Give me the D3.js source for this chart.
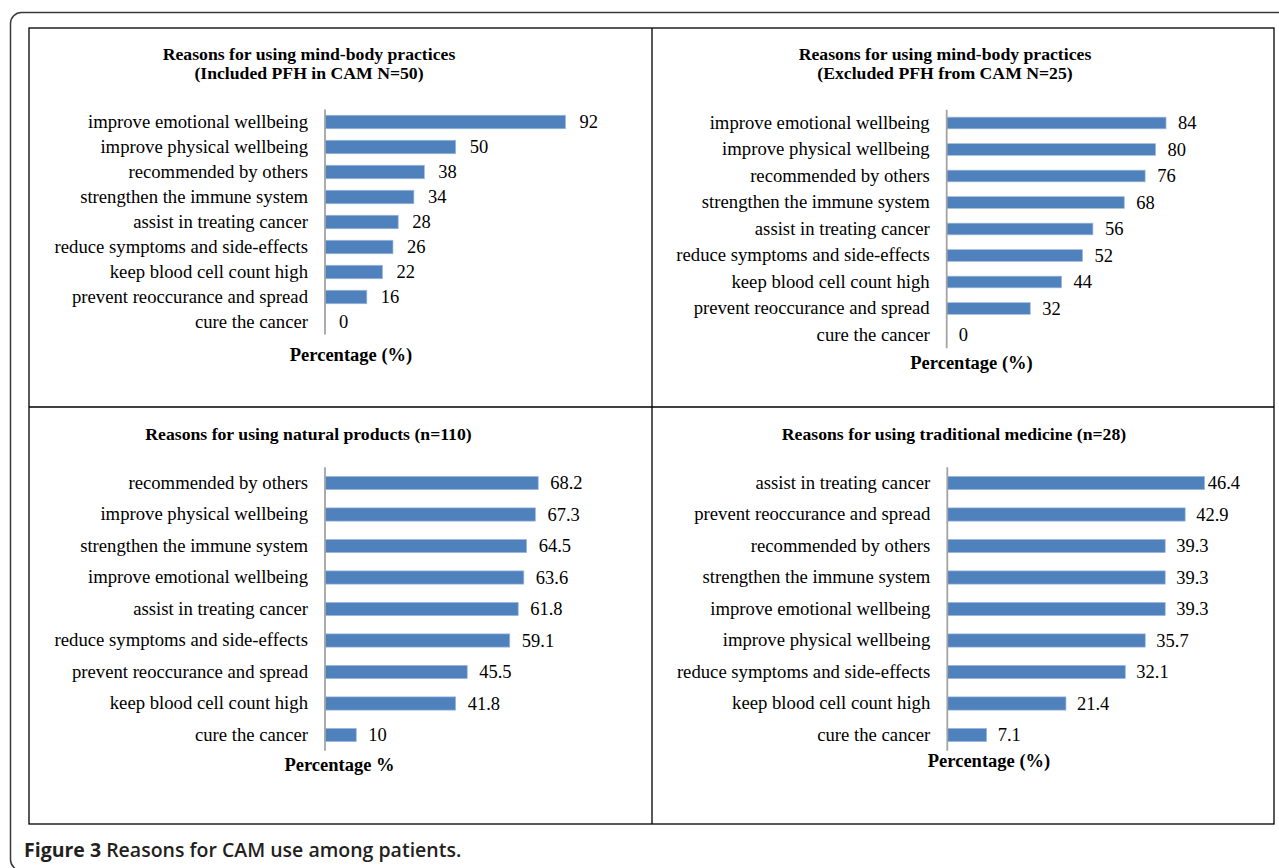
<!DOCTYPE html>
<html>
<head>
<meta charset="utf-8">
<script src="https://cdn.jsdelivr.net/npm/d3@7"></script>
<style>
  html, body { margin: 0; padding: 0; background: #fff; }
  svg { display: block; }
</style>
</head>
<body>
<svg id="chart" width="1279" height="868"></svg>
<script>
// ---------- DATA ----------
const titleMindBodyIncl = ["Reasons for using mind-body practices", "(Included PFH in CAM N=50)"];
const catsMindBodyIncl = ["improve emotional wellbeing", "improve physical wellbeing", "recommended by others",
  "strengthen the immune system", "assist in treating cancer", "reduce symptoms and side-effects",
  "keep blood cell count high", "prevent reoccurance and spread", "cure the cancer"];
const valsMindBodyIncl = [92, 50, 38, 34, 28, 26, 22, 16, 0];

const titleMindBodyExcl = ["Reasons for using mind-body practices", "(Excluded PFH from CAM N=25)"];
const catsMindBodyExcl = ["improve emotional wellbeing", "improve physical wellbeing", "recommended by others",
  "strengthen the immune system", "assist in treating cancer", "reduce symptoms and side-effects",
  "keep blood cell count high", "prevent reoccurance and spread", "cure the cancer"];
const valsMindBodyExcl = [84, 80, 76, 68, 56, 52, 44, 32, 0];

const titleNatural = ["Reasons for using natural products (n=110)"];
const catsNatural = ["recommended by others", "improve physical wellbeing", "strengthen the immune system",
  "improve emotional wellbeing", "assist in treating cancer", "reduce symptoms and side-effects",
  "prevent reoccurance and spread", "keep blood cell count high", "cure the cancer"];
const valsNatural = [68.2, 67.3, 64.5, 63.6, 61.8, 59.1, 45.5, 41.8, 10];

const titleTraditional = ["Reasons for using traditional medicine (n=28)"];
const catsTraditional = ["assist in treating cancer", "prevent reoccurance and spread", "recommended by others",
  "strengthen the immune system", "improve emotional wellbeing", "improve physical wellbeing",
  "reduce symptoms and side-effects", "keep blood cell count high", "cure the cancer"];
const valsTraditional = [46.4, 42.9, 39.3, 39.3, 39.3, 35.7, 32.1, 21.4, 7.1];

const axisTitles = ["Percentage (%)", "Percentage (%)", "Percentage %", "Percentage (%)"];
const captionBold = "Figure 3";
const captionText = " Reasons for CAM use among patients.";

// ---------- LAYOUT ----------
const svg = d3.select("#chart");
const SERIF = "'Liberation Serif', 'Times New Roman', serif";
const BAR = "#4f81bd";

// outer rounded frame
svg.append("rect")
  .attr("x", 10.5).attr("y", 12.5).attr("width", 1300).attr("height", 858)
  .attr("rx", 11).attr("ry", 11)
  .attr("fill", "none").attr("stroke", "#3a3a3a").attr("stroke-width", 1.5);

// inner table
const T = { x0: 29, y0: 28, x1: 1274, y1: 824, xm: 652, ym: 407 };
svg.append("rect").attr("x", T.x0).attr("y", T.y0)
  .attr("width", T.x1 - T.x0).attr("height", T.y1 - T.y0)
  .attr("fill", "none").attr("stroke", "#000").attr("stroke-width", 1.3);
svg.append("line").attr("x1", T.xm).attr("x2", T.xm).attr("y1", T.y0).attr("y2", T.y1)
  .attr("stroke", "#000").attr("stroke-width", 1.3);
svg.append("line").attr("x1", T.x0).attr("x2", T.x1).attr("y1", T.ym).attr("y2", T.ym)
  .attr("stroke", "#000").attr("stroke-width", 1.3);

const panels = [
  { title: titleMindBodyIncl, cats: catsMindBodyIncl, vals: valsMindBodyIncl, axisTitle: axisTitles[0],
    titleX: 309, titleY: 60, x0: 325, pxMax: 100, pxW: 261.4, yr: [109.5, 334.5], pad: 0.46,
    gap: 14, axX: 351, axY: 361, plotRight: 640 },
  { title: titleMindBodyExcl, cats: catsMindBodyExcl, vals: valsMindBodyExcl, axisTitle: axisTitles[1],
    titleX: 945, titleY: 60, x0: 946.7, pxMax: 100, pxW: 261.1, yr: [109.75, 348.25], pad: 0.56,
    gap: 12, axX: 971.5, axY: 369, plotRight: 1262 },
  { title: titleNatural, cats: catsNatural, vals: valsNatural, axisTitle: axisTitles[2],
    titleX: 308.5, titleY: 440, x0: 325, pxMax: 80, pxW: 250.1, yr: [467.25, 750.75], pad: 0.58,
    gap: 12, axX: 339.5, axY: 771, plotRight: 640 },
  { title: titleTraditional, cats: catsTraditional, vals: valsTraditional, axisTitle: axisTitles[3],
    titleX: 954, titleY: 440, x0: 947.3, pxMax: 50, pxW: 277.25, yr: [467.25, 750.75], pad: 0.58,
    gap: 11, axX: 989, axY: 767, plotRight: 1240 }
];

panels.forEach(p => {
  const g = svg.append("g");
  const x = d3.scaleLinear().domain([0, p.pxMax]).range([p.x0, p.x0 + p.pxW]);
  const y = d3.scaleBand().domain(p.cats).range(p.yr).paddingInner(p.pad).paddingOuter(p.pad / 2);
  const data = p.cats.map((c, i) => ({ c, v: p.vals[i] }));

  // title
  const t = g.append("text").attr("x", p.titleX).attr("y", p.titleY)
    .attr("text-anchor", "middle").attr("font-family", SERIF)
    .attr("font-weight", "bold").attr("font-size", "17.7px").attr("fill", "#000");
  p.title.forEach((line, i) => {
    t.append("tspan").attr("x", p.titleX).attr("dy", i === 0 ? 0 : 19).text(line);
  });

  // bars
  g.selectAll("rect.bar").data(data).join("rect").attr("class", "bar")
    .attr("x", x(0)).attr("y", d => y(d.c))
    .attr("width", d => x(d.v) - x(0)).attr("height", y.bandwidth())
    .attr("fill", BAR).attr("stroke", "#9fb9de").attr("stroke-width", d => d.v > 0 ? 0.7 : 0);

  // category axis (left)
  const axis = d3.axisLeft(y).tickSize(0).tickPadding(17);
  const ag = g.append("g").attr("transform", `translate(${x(0)},0)`).call(axis);
  ag.select(".domain").remove();
  ag.selectAll("text").attr("font-family", SERIF).attr("font-size", "18.7px").attr("fill", "#000");
  g.append("line").attr("x1", x(0)).attr("x2", x(0)).attr("y1", p.yr[0]).attr("y2", p.yr[1])
    .attr("stroke", "#a3a3a3").attr("stroke-width", 1.8);

  // value labels
  g.selectAll("text.val").data(data).join("text").attr("class", "val")
    .attr("y", d => y(d.c) + y.bandwidth() / 2).attr("dy", "0.35em")
    .attr("font-family", SERIF).attr("font-size", "18.5px").attr("fill", "#000")
    .text(d => d.v)
    .attr("x", function (d) {
      const w = this.getComputedTextLength();
      return Math.min(x(d.v) + p.gap, p.plotRight - w);
    });

  // axis title
  g.append("text").attr("x", p.axX).attr("y", p.axY).attr("text-anchor", "middle")
    .attr("font-family", SERIF).attr("font-weight", "bold").attr("font-size", "18.5px")
    .attr("fill", "#000").text(p.axisTitle);
});

// caption
const cap = svg.append("text").attr("x", 24).attr("y", 857)
  .attr("font-family", "'Open Sans', 'Noto Sans', sans-serif").attr("font-size", "19.5px").attr("fill", "#231f20");
cap.append("tspan").attr("font-weight", "bold").text(captionBold);
cap.append("tspan").attr("font-weight", "600").text(captionText);
</script>
</body>
</html>
